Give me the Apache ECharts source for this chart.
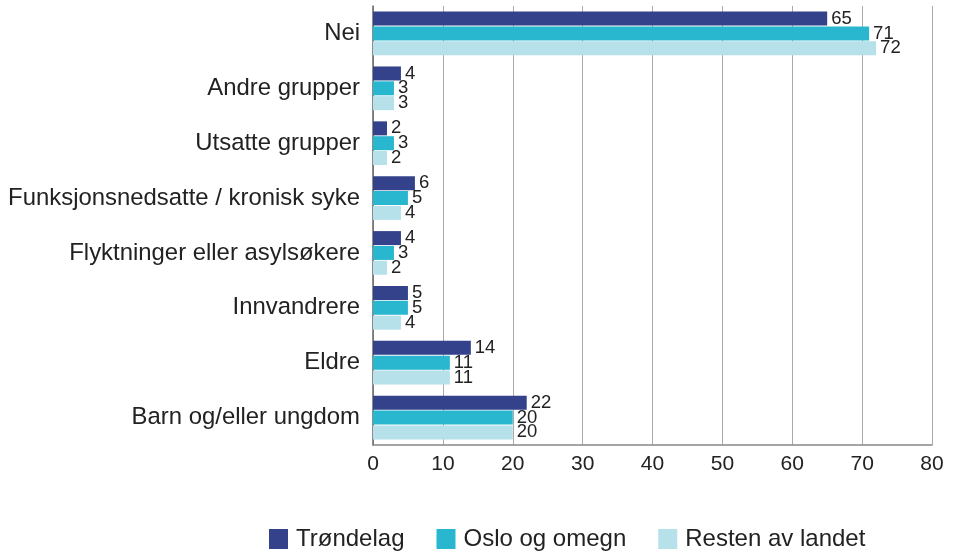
<!DOCTYPE html>
<html>
<head>
<meta charset="utf-8">
<script src="https://cdn.jsdelivr.net/npm/echarts@6/dist/echarts.min.js"></script>
<style>
html,body{margin:0;padding:0;background:#fff;}
#c{width:953px;height:552px;}
</style>
</head>
<body>
<div id="c"></div>
<script>
var categories = ["Nei", "Andre grupper", "Utsatte grupper", "Funksjonsnedsatte / kronisk syke", "Flyktninger eller asylsøkere", "Innvandrere", "Eldre", "Barn og/eller ungdom"];
var seriesNames = ["Trøndelag", "Oslo og omegn", "Resten av landet"];
var trondelag = [65, 4, 2, 6, 4, 5, 14, 22];
var oslo = [71, 3, 3, 5, 3, 5, 11, 20];
var resten = [72, 3, 2, 4, 2, 4, 11, 20];
var xTicks = [0, 10, 20, 30, 40, 50, 60, 70, 80];

var colors = ["#33428a", "#29b7cf", "#b6e0ea"];
var fontFam = "'Liberation Sans', Arial, Helvetica, sans-serif";

function mkSeries(name, data, color) {
  return {
    name: name,
    type: "bar",
    data: data,
    barWidth: 14,
    barGap: "6%",
    itemStyle: { color: color },
    label: {
      show: true,
      position: "right",
      distance: 4,
      color: "#222",
      fontSize: 18.5,
      fontFamily: fontFam
    }
  };
}

var chart = echarts.init(document.getElementById("c"), null, { renderer: "canvas" });
chart.setOption({
  animation: false,
  backgroundColor: "#fff",
  grid: { left: 373, right: 21, top: 6, bottom: 107, containLabel: false },
  legend: {
    data: seriesNames,
    left: 269,
    top: 527,
    padding: 0,
    icon: "rect",
    itemWidth: 19,
    itemHeight: 20,
    itemGap: 32,
    textStyle: { color: "#222", fontSize: 24, fontFamily: fontFam, padding: [0, 0, 0, 3] }
  },
  xAxis: {
    type: "value",
    min: xTicks[0],
    max: xTicks[xTicks.length - 1],
    interval: 10,
    axisLine: { show: true, lineStyle: { color: "#888", width: 1.5 } },
    axisTick: { show: false },
    splitLine: { show: true, lineStyle: { color: "#aaa", width: 1 } },
    axisLabel: { color: "#222", fontSize: 21, fontFamily: fontFam, margin: 9 }
  },
  yAxis: {
    type: "category",
    data: categories,
    inverse: true,
    axisLine: { show: true, lineStyle: { color: "#666", width: 1.5 } },
    axisTick: { show: false },
    axisLabel: { color: "#222", fontSize: 23.9, fontFamily: fontFam, margin: 13 }
  },
  series: [
    mkSeries(seriesNames[0], trondelag, colors[0]),
    mkSeries(seriesNames[1], oslo, colors[1]),
    mkSeries(seriesNames[2], resten, colors[2])
  ]
});
</script>
</body>
</html>
